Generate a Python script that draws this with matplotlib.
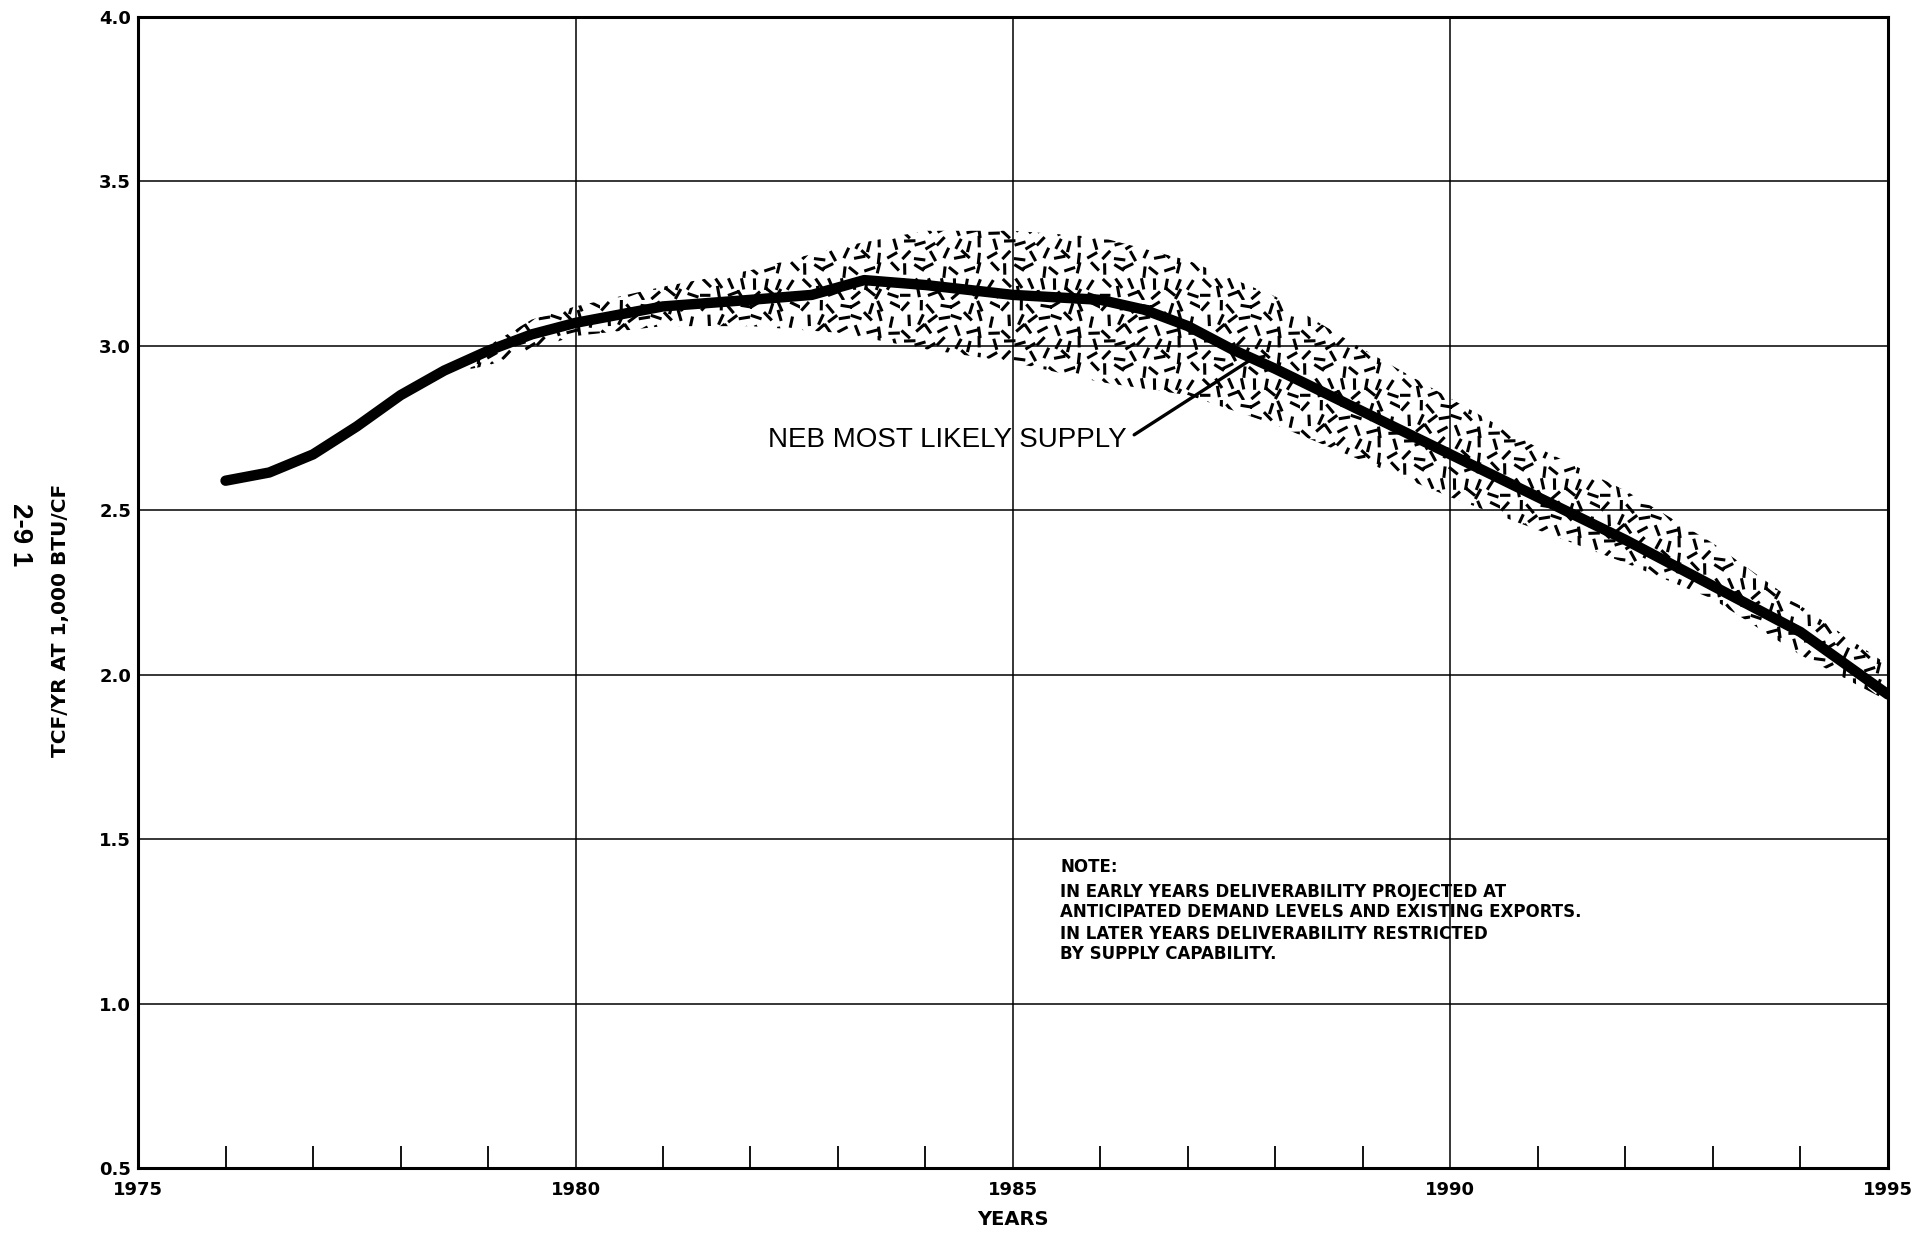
import matplotlib
matplotlib.use("Agg")
import matplotlib.pyplot as plt
from matplotlib import hatch as mhatch
from matplotlib.path import Path
import numpy as np

# NEB most likely supply (TCF/yr)
years = [1976, 1976.5, 1977, 1977.5, 1978, 1978.5, 1979, 1979.5, 1980, 1981,
         1982, 1982.7, 1983.3, 1984, 1985, 1986, 1986.5, 1987, 1987.5, 1988,
         1989, 1990, 1991, 1992, 1993, 1994, 1995]
supply = [2.59, 2.615, 2.67, 2.755, 2.85, 2.925, 2.985, 3.035, 3.07, 3.12,
          3.14, 3.155, 3.20, 3.185, 3.155, 3.14, 3.11, 3.06, 2.99, 2.93,
          2.80, 2.67, 2.54, 2.41, 2.27, 2.13, 1.94]

# shaded range around it
band_years = [1978.8, 1979, 1979.5, 1980, 1981, 1982, 1983, 1984, 1985, 1986,
              1987, 1988, 1989, 1990, 1991, 1992, 1993, 1994, 1995]
band_high = [2.95, 3.00, 3.08, 3.12, 3.18, 3.23, 3.30, 3.35, 3.35, 3.33,
             3.26, 3.15, 2.99, 2.84, 2.69, 2.56, 2.40, 2.21, 2.03]
band_low = [2.93, 2.94, 2.99, 3.03, 3.06, 3.06, 3.04, 2.99, 2.95, 2.89,
            2.85, 2.76, 2.65, 2.54, 2.44, 2.34, 2.23, 2.06, 1.92]

major_years = [1975, 1980, 1985, 1990, 1995]
minor_years = [y for y in range(1976, 1995) if y % 5 != 0]
y_ticks = [0.5, 1.0, 1.5, 2.0, 2.5, 3.0, 3.5, 4.0]

note = ("IN EARLY YEARS DELIVERABILITY PROJECTED AT\n"
        "ANTICIPATED DEMAND LEVELS AND EXISTING EXPORTS.")
note2 = ("IN LATER YEARS DELIVERABILITY RESTRICTED\n"
         "BY SUPPLY CAPABILITY.")


# short dashes scattered at mixed angles, used in place of the '*' hatch
class DashHatch(mhatch.HatchPatternBase):
    def __init__(self, hatch, density):
        self.n = 8 if '*' in hatch else 0
        self.num_vertices = 2 * self.n * self.n

    def set_vertices_and_codes(self, vertices, codes):
        half = 0.042
        step = 1.0 / max(self.n, 1)
        k = 0
        for i in range(self.n):
            for j in range(self.n):
                h1 = (i * 73 + j * 151 + i * j * 37) % 97
                h2 = (i * 41 + j * 29 + i * j * 53 + 11) % 89
                h3 = (i * 17 + j * 61 + i * j * 19 + 5) % 83
                a = np.pi * h1 / 97.0
                cx = (j + 0.5) * step + (h2 / 89.0 - 0.5) * 0.6 * step
                cy = (i + 0.5) * step + (h3 / 83.0 - 0.5) * 0.6 * step
                cx = min(max(cx, half + 0.005), 1 - half - 0.005)
                cy = min(max(cy, half + 0.005), 1 - half - 0.005)
                vertices[k] = (cx - half * np.cos(a), cy - half * np.sin(a))
                vertices[k + 1] = (cx + half * np.cos(a), cy + half * np.sin(a))
                codes[k] = Path.MOVETO
                codes[k + 1] = Path.LINETO
                k += 2


mhatch._hatch_types[-1] = DashHatch
plt.rcParams['hatch.linewidth'] = 2.2

fig = plt.figure(figsize=(19.28, 12.33), dpi=100)
ax = fig.add_axes([0.0716, 0.0527, 0.9076, 0.9335])

ax.fill_between(band_years, band_low, band_high, facecolor='none',
                edgecolor='black', hatch='*', linewidth=0)
ax.plot(years, supply, color='black', linewidth=7.5, solid_capstyle='round',
        solid_joinstyle='round')

ax.set_xlim(1975, 1995)
ax.set_ylim(0.5, 4.0)
ax.set_xticks(major_years)
ax.set_xticks(minor_years, minor=True)
ax.set_yticks(y_ticks)
ax.grid(True, which='major', color='black', linewidth=1.1)
ax.tick_params(axis='both', which='major', length=0, labelsize=13)
ax.tick_params(axis='x', which='major', pad=9)
ax.tick_params(axis='y', which='major', pad=5)
ax.tick_params(axis='x', which='minor', direction='in', length=16, width=1.3)
for lab in ax.get_xticklabels() + ax.get_yticklabels():
    lab.set_fontweight('bold')
for sp in ax.spines.values():
    sp.set_linewidth(2.2)

ax.set_xlabel('YEARS', fontsize=14, fontweight='bold', labelpad=8)
ax.set_ylabel('TCF/YR AT 1,000 BTU/CF', fontsize=14.5, fontweight='bold')
ax.yaxis.set_label_coords(-0.039, 0.476)

fig.text(0.0105, 0.566, '2-9 1', rotation=-90, fontsize=20, fontweight='bold',
         ha='center', va='center', family=['Liberation Sans', 'DejaVu Sans'])

ax.annotate('NEB MOST LIKELY SUPPLY', xy=(1987.73, 2.96), xytext=(1986.3, 2.715),
            fontsize=20, ha='right', va='center',
            family=['Liberation Sans', 'DejaVu Sans'],
            arrowprops=dict(arrowstyle='-', color='black', lw=2.4,
                            relpos=(1.0, 0.5), shrinkA=4, shrinkB=0))

note_font = dict(fontsize=12, fontweight='bold', ha='left', va='center',
                 linespacing=1.15)
ax.text(1985.54, 1.416, 'NOTE:', **note_font)
ax.text(1985.54, 1.309, note, **note_font)
ax.text(1985.54, 1.18, note2, **note_font)

fig.savefig('out.png', dpi=100)
